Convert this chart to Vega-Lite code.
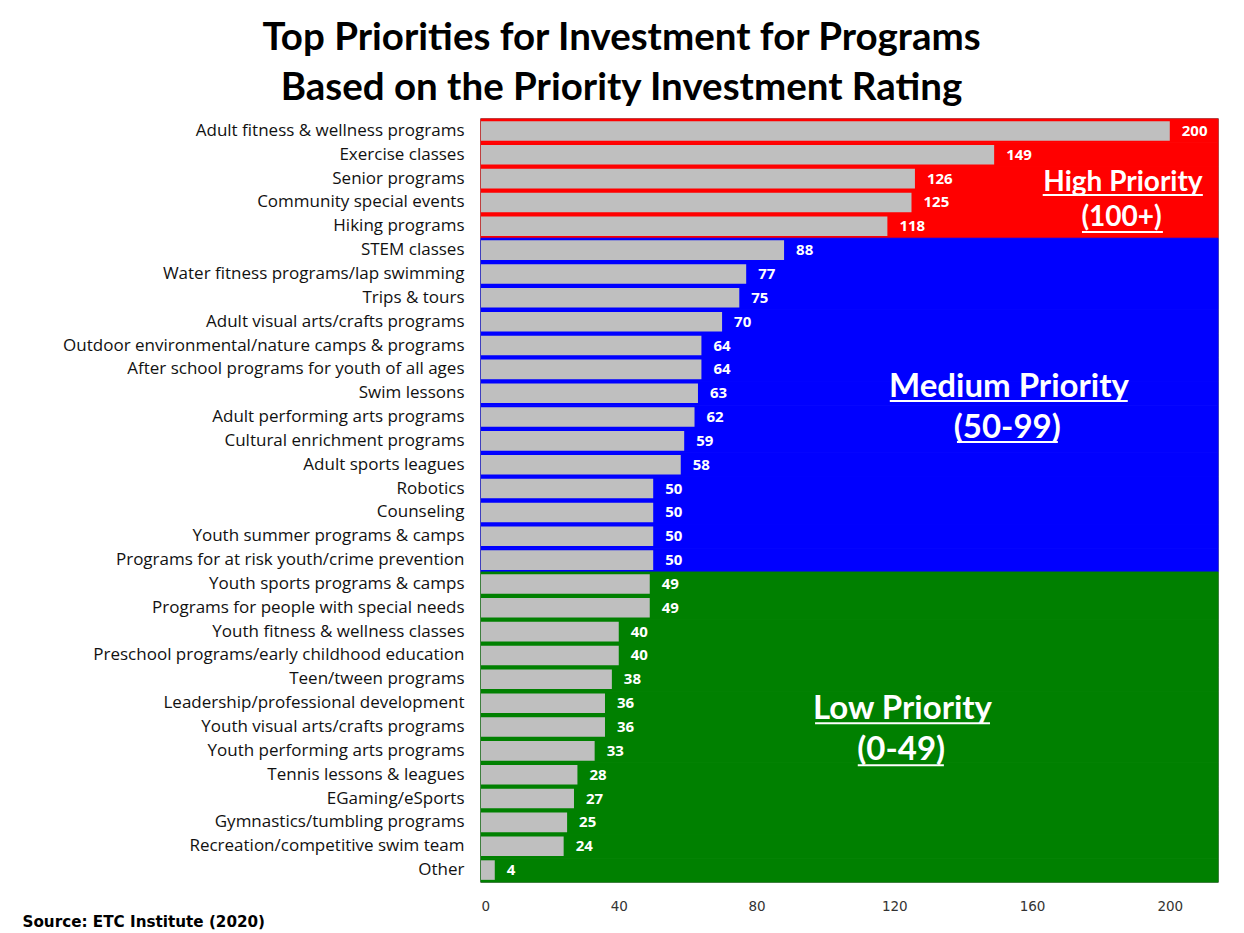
{
  "$schema": "https://vega.github.io/schema/vega-lite/v6.json",
  "autosize": "none",
  "width": 737,
  "height": 763,
  "padding": {"left": 481, "top": 119, "right": 26, "bottom": 51},
  "background": "white",
  "config": {
    "view": {"stroke": "#555555", "strokeWidth": 1.5},
    "axis": {"grid": false, "ticks": false, "domain": false}
  },
  "title": {
    "text": ["Top Priorities for Investment for Programs", "Based on the Priority Investment Rating"],
    "font": "Lato",
    "fontSize": 38.5,
    "fontWeight": "bold",
    "color": "black",
    "lineHeight": 50,
    "anchor": "middle",
    "frame": "group",
    "dx": -228,
    "offset": 10
  },
  "datasets": {
    "main": [
      {"name": "Adult fitness & wellness programs", "value": 200, "group": "High"},
      {"name": "Exercise classes", "value": 149, "group": "High"},
      {"name": "Senior programs", "value": 126, "group": "High"},
      {"name": "Community special events", "value": 125, "group": "High"},
      {"name": "Hiking programs", "value": 118, "group": "High"},
      {"name": "STEM classes", "value": 88, "group": "Medium"},
      {"name": "Water fitness programs/lap swimming", "value": 77, "group": "Medium"},
      {"name": "Trips & tours", "value": 75, "group": "Medium"},
      {"name": "Adult visual arts/crafts programs", "value": 70, "group": "Medium"},
      {"name": "Outdoor environmental/nature camps & programs", "value": 64, "group": "Medium"},
      {"name": "After school programs for youth of all ages", "value": 64, "group": "Medium"},
      {"name": "Swim lessons", "value": 63, "group": "Medium"},
      {"name": "Adult performing arts programs", "value": 62, "group": "Medium"},
      {"name": "Cultural enrichment programs", "value": 59, "group": "Medium"},
      {"name": "Adult sports leagues", "value": 58, "group": "Medium"},
      {"name": "Robotics", "value": 50, "group": "Medium"},
      {"name": "Counseling", "value": 50, "group": "Medium"},
      {"name": "Youth summer programs & camps", "value": 50, "group": "Medium"},
      {"name": "Programs for at risk youth/crime prevention", "value": 50, "group": "Medium"},
      {"name": "Youth sports programs & camps", "value": 49, "group": "Low"},
      {"name": "Programs for people with special needs", "value": 49, "group": "Low"},
      {"name": "Youth fitness & wellness classes", "value": 40, "group": "Low"},
      {"name": "Preschool programs/early childhood education", "value": 40, "group": "Low"},
      {"name": "Teen/tween programs", "value": 38, "group": "Low"},
      {"name": "Leadership/professional development", "value": 36, "group": "Low"},
      {"name": "Youth visual arts/crafts programs", "value": 36, "group": "Low"},
      {"name": "Youth performing arts programs", "value": 33, "group": "Low"},
      {"name": "Tennis lessons & leagues", "value": 28, "group": "Low"},
      {"name": "EGaming/eSports", "value": 27, "group": "Low"},
      {"name": "Gymnastics/tumbling programs", "value": 25, "group": "Low"},
      {"name": "Recreation/competitive swim team", "value": 24, "group": "Low"},
      {"name": "Other", "value": 4, "group": "Low"}
    ],
    "notes": [
      {"label": "High Priority", "tier": "High", "x": 186.4, "pos": 2.68},
      {"label": "(100+)", "tier": "High", "x": 186, "pos": 4.15},
      {"label": "Medium Priority", "tier": "Other", "x": 153.3, "pos": 11.24},
      {"label": "(50-99)", "tier": "Other", "x": 152.8, "pos": 12.96},
      {"label": "Low Priority", "tier": "Other", "x": 122.4, "pos": 24.75},
      {"label": "(0-49)", "tier": "Other", "x": 122, "pos": 26.47}
    ],
    "underlines": [
      {"x1": 163.1, "x2": 209.6, "pos": 3.19},
      {"x1": 174.5, "x2": 198, "pos": 4.74},
      {"x1": 118.7, "x2": 187.8, "pos": 11.83},
      {"x1": 138.2, "x2": 167.5, "pos": 13.55},
      {"x1": 97, "x2": 147.8, "pos": 25.34},
      {"x1": 109.4, "x2": 134.4, "pos": 27.1}
    ]
  },
  "resolve": {"scale": {"y": "independent"}, "axis": {"y": "independent"}},
  "layer": [
    {
      "data": {"name": "main"},
      "mark": {"type": "rect", "strokeWidth": 1},
      "encoding": {
        "y": {"field": "name", "type": "nominal", "sort": null, "scale": {"paddingInner": 0, "paddingOuter": 0}, "axis": null},
        "x": {"datum": 0, "type": "quantitative", "scale": {"domain": [0, 214], "nice": false}},
        "x2": {"datum": 214},
        "color": {"field": "group", "type": "nominal", "scale": {"domain": ["High", "Medium", "Low"], "range": ["#FF0000", "#0000FF", "#008000"]}, "legend": null},
        "stroke": {"field": "group", "type": "nominal", "scale": {"domain": ["High", "Medium", "Low"], "range": ["#FF0000", "#0000FF", "#008000"]}, "legend": null}
      }
    },
    {
      "data": {"name": "main"},
      "encoding": {
        "y": {"field": "name", "type": "nominal", "sort": null,
          "scale": {"paddingInner": 0.18, "paddingOuter": 0.09},
          "axis": {"orient": "left", "title": null, "labelFont": "Open Sans", "labelFontSize": 17, "labelColor": "#111111", "labelPadding": 17, "labelLimit": 600}},
        "x": {"field": "value", "type": "quantitative",
          "scale": {"domain": [0, 214], "nice": false},
          "axis": {"values": [0, 40, 80, 120, 160, 200], "labelFont": "DejaVu Sans", "labelFontSize": 13.5, "labelColor": "#333333", "labelPadding": 17,
            "title": "Source:  ETC Institute (2020)", "titleFont": "DejaVu Sans", "titleFontSize": 15.2, "titleFontWeight": "bold", "titleColor": "black",
            "titleAnchor": "start", "titleAlign": "left", "titleX": -459, "titleY": 44, "titleBaseline": "alphabetic"}}
      },
      "layer": [
        {"mark": {"type": "bar", "color": "#BFBFBF"}},
        {"mark": {"type": "text", "align": "left", "baseline": "middle", "dx": 12, "font": "Open Sans", "fontSize": 15, "fontWeight": "bold", "color": "white"},
         "encoding": {"text": {"field": "value", "type": "quantitative"}}}
      ]
    },
    {
      "data": {"name": "notes"},
      "transform": [{"filter": "datum.tier === 'High'"}],
      "mark": {"type": "text", "align": "center", "baseline": "middle", "font": "Lato", "fontSize": 28, "fontWeight": "bold", "color": "white"},
      "encoding": {
        "x": {"field": "x", "type": "quantitative"},
        "y": {"field": "pos", "type": "quantitative", "scale": {"domain": [0, 32], "reverse": true, "nice": false, "zero": false}, "axis": null},
        "text": {"field": "label", "type": "nominal"}
      }
    },
    {
      "data": {"name": "notes"},
      "transform": [{"filter": "datum.tier !== 'High'"}],
      "mark": {"type": "text", "align": "center", "baseline": "middle", "font": "Lato", "fontSize": 33, "fontWeight": "bold", "color": "white"},
      "encoding": {
        "x": {"field": "x", "type": "quantitative"},
        "y": {"field": "pos", "type": "quantitative", "scale": {"domain": [0, 32], "reverse": true, "nice": false, "zero": false}, "axis": null},
        "text": {"field": "label", "type": "nominal"}
      }
    },
    {
      "data": {"name": "underlines"},
      "mark": {"type": "rule", "color": "white", "strokeWidth": 2},
      "encoding": {
        "x": {"field": "x1", "type": "quantitative"},
        "x2": {"field": "x2"},
        "y": {"field": "pos", "type": "quantitative", "scale": {"domain": [0, 32], "reverse": true, "nice": false, "zero": false}, "axis": null}
      }
    }
  ]
}
